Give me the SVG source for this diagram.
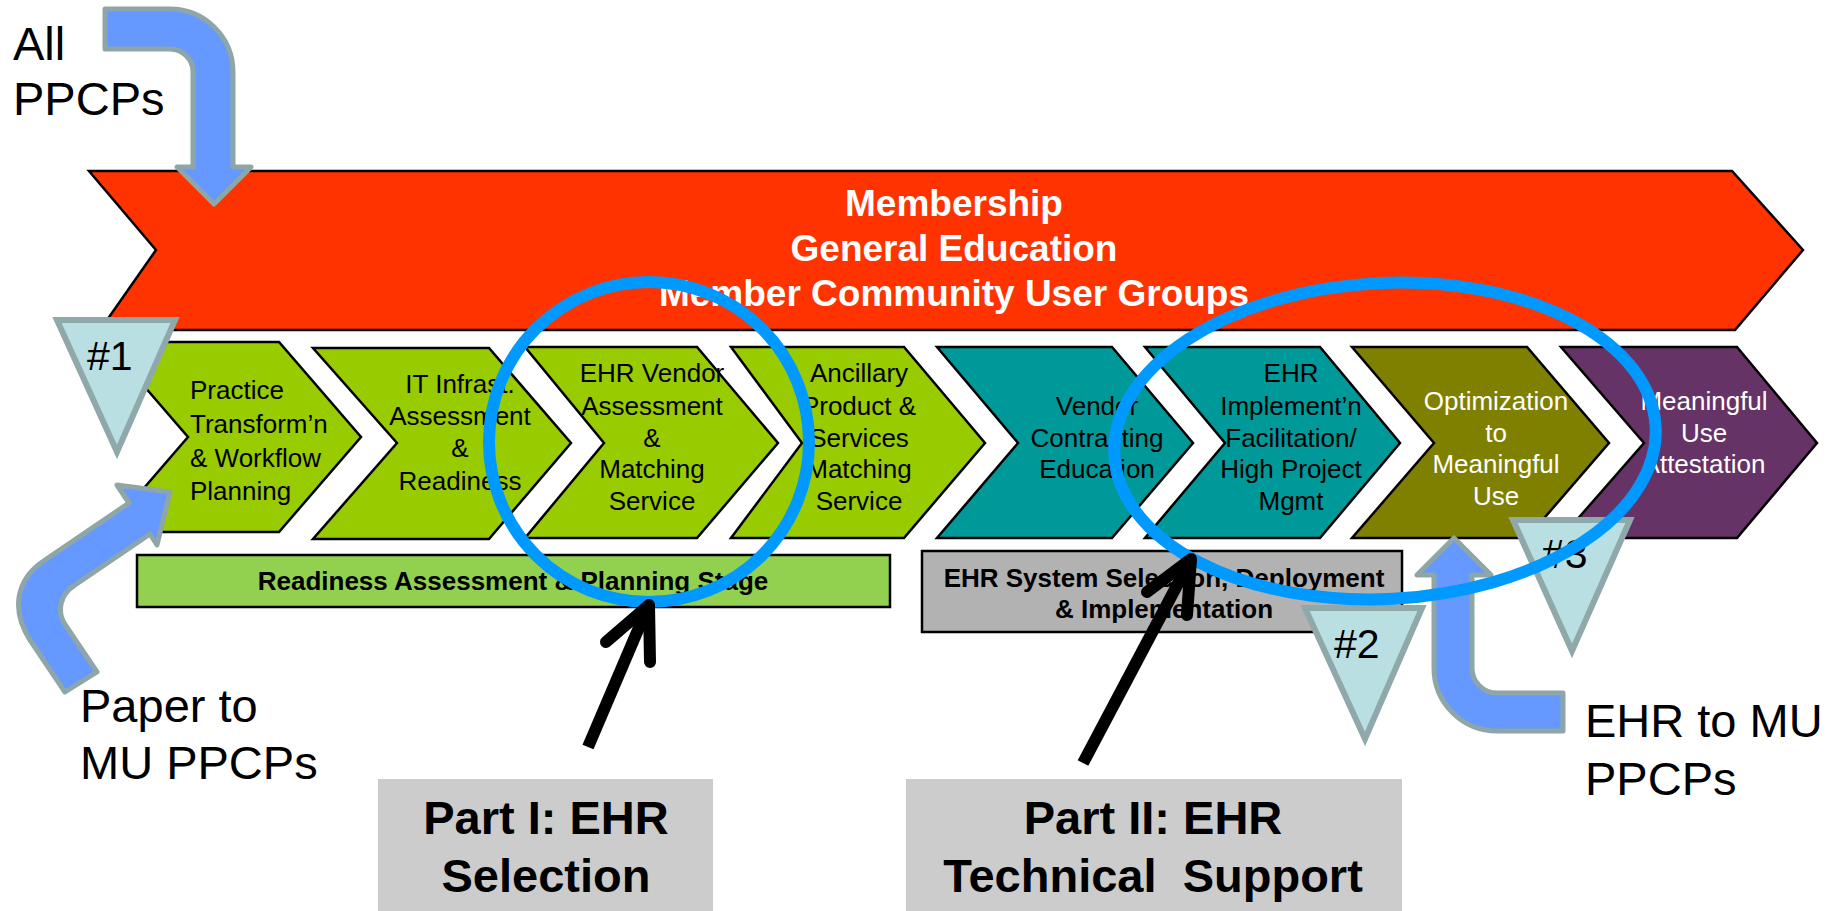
<svg xmlns="http://www.w3.org/2000/svg" width="1839" height="911" viewBox="0 0 1839 911">
<defs>
<style>
text{font-family:"Liberation Sans",Arial,sans-serif;}
.chev{stroke:#000;stroke-width:2.5;stroke-linejoin:miter;}
.g{fill:#99CC00}.t{fill:#009999}.o{fill:#808000}.p{fill:#663366}
.ct{font-size:26px;fill:#000;text-anchor:middle;}
.cw{font-size:26px;fill:#fff;text-anchor:middle;}
.tri{fill:#B9DFE3;stroke:#8FA8AA;stroke-width:6;stroke-linejoin:miter;}
.tt{font-size:41px;fill:#000;}
.barrow{fill:#6699FF;stroke:#8EA6A8;stroke-width:5;stroke-linejoin:round;}
.lab{font-size:47px;fill:#000;}
.ring{fill:none;stroke:#0099FF;stroke-width:12;}
.karrow{fill:none;stroke:#000;stroke-width:12;stroke-linecap:round;stroke-linejoin:round;}
.part{fill:#CCCCCC;}
.pt{font-size:47px;font-weight:bold;fill:#000;text-anchor:middle;}
.bt{font-size:26px;font-weight:bold;fill:#000;text-anchor:middle;}
</style>
</defs>
<rect width="1839" height="911" fill="#fff"/>

<g id="banner">
<polygon points="89,171 1732,171 1803,250 1735,330 100,330 156,250" fill="#FF3300" stroke="#000" stroke-width="2.5"/>
<text x="954" y="216" font-size="37" font-weight="bold" fill="#fff" text-anchor="middle">Membership</text>
<text x="954" y="261" font-size="37" font-weight="bold" fill="#fff" text-anchor="middle">General Education</text>
<text x="954" y="306" font-size="37" font-weight="bold" fill="#fff" text-anchor="middle">Member Community User Groups</text>
</g>

<g id="chevrons">
<g id="c1"><polygon class="chev g" points="106,342 279,342 361,437 279,532 106,532 188,437"/>
<text class="ct" style="text-anchor:start" x="190" y="399">Practice</text>
<text class="ct" style="text-anchor:start" x="190" y="433">Transform’n</text>
<text class="ct" style="text-anchor:start" x="190" y="467">&amp; Workflow</text>
<text class="ct" style="text-anchor:start" x="190" y="500">Planning</text></g>
<g id="c2"><polygon class="chev g" points="313,348 489,348 571,443 489,539 313,539 397,443"/>
<text class="ct" x="460" y="393">IT Infrast.</text>
<text class="ct" x="460" y="425">Assessment</text>
<text class="ct" x="460" y="457">&amp;</text>
<text class="ct" x="460" y="490">Readiness</text></g>
<g id="c3"><polygon class="chev g" points="525,347 697,347 778,443 697,538 525,538 604,443"/>
<text class="ct" x="652" y="382">EHR Vendor</text>
<text class="ct" x="652" y="415">Assessment</text>
<text class="ct" x="652" y="447">&amp;</text>
<text class="ct" x="652" y="478">Matching</text>
<text class="ct" x="652" y="510">Service</text></g>
<g id="c4"><polygon class="chev g" points="731,347 904,347 985,443 904,538 731,538 802,443"/>
<text class="ct" x="859" y="382">Ancillary</text>
<text class="ct" x="859" y="415">Product &amp;</text>
<text class="ct" x="859" y="447">Services</text>
<text class="ct" x="859" y="478">Matching</text>
<text class="ct" x="859" y="510">Service</text></g>
<g id="c5"><polygon class="chev t" points="937,347 1112,347 1193,443 1112,538 937,538 1018,443"/>
<text class="ct" x="1097" y="415">Vendor</text>
<text class="ct" x="1097" y="447">Contracting</text>
<text class="ct" x="1097" y="478">Education</text></g>
<g id="c6"><polygon class="chev t" points="1145,347 1320,347 1400,443 1320,538 1145,538 1225,443"/>
<text class="ct" x="1291" y="382">EHR</text>
<text class="ct" x="1291" y="415">Implement’n</text>
<text class="ct" x="1291" y="447">Facilitation/</text>
<text class="ct" x="1291" y="478">High Project</text>
<text class="ct" x="1291" y="510">Mgmt</text></g>
<g id="c7"><polygon class="chev o" points="1352,347 1527,347 1609,443 1527,538 1352,538 1434,443"/>
<text class="cw" x="1496" y="410">Optimization</text>
<text class="cw" x="1496" y="442">to</text>
<text class="cw" x="1496" y="473">Meaningful</text>
<text class="cw" x="1496" y="505">Use</text></g>
<g id="c8"><polygon class="chev p" points="1561,347 1737,347 1817,443 1737,538 1561,538 1644,443"/>
<text class="cw" x="1704" y="410">Meaningful</text>
<text class="cw" x="1704" y="442">Use</text>
<text class="cw" x="1704" y="473">Attestation</text></g>
</g>

<g id="stage1">
<rect x="137" y="555" width="753" height="52" fill="#92D050" stroke="#000" stroke-width="2.5"/>
<text class="bt" x="513" y="590">Readiness Assessment &amp; Planning Stage</text>
</g>
<g id="stage2">
<rect x="922" y="551" width="480" height="81" fill="#B2B2B2" stroke="#000" stroke-width="2.5"/>
<text class="bt" x="1164" y="587">EHR System Selection, Deployment</text>
<text class="bt" x="1164" y="618">&amp; Implementation</text>
</g>

<g id="marker1"><polygon class="tri" points="57,320 175,320 117,452"/><text class="tt" x="87" y="370">#1</text></g>
<g id="marker2"><polygon class="tri" points="1305,608 1422,608 1365,739"/><text class="tt" x="1334" y="658">#2</text></g>
<g id="marker3"><polygon class="tri" points="1513,520 1630,520 1572,651"/><text class="tt" x="1542" y="568">#3</text></g>

<g id="labels">
<text class="lab" x="13" y="60">All</text>
<text class="lab" x="13" y="115">PPCPs</text>
<text class="lab" x="80" y="722">Paper to</text>
<text class="lab" x="80" y="779">MU PPCPs</text>
<text class="lab" x="1585" y="737">EHR to MU</text>
<text class="lab" x="1585" y="795">PPCPs</text>
</g>

<g id="connectors">
<path class="barrow" d="M105,9 L170,9 A63,63 0 0 1 233,72 L233,167 L251,167 L214,204 L177,167 L193,167 L193,72 A23,23 0 0 0 170,49 L105,49 Z"/>
<path class="barrow" d="M65,692 L30,640 C12,612 14,580 45,560 L129,503 L117,485 L170,492 L157,545 L150,534 L75,585 C60,594 56,612 66,626 L97,672 Z"/>
<path class="barrow" d="M1563,693 L1497,693 A25,25 0 0 1 1472,668 L1472,575 L1491,575 L1454,538 L1417,575 L1434,575 L1434,668 A63,63 0 0 0 1497,731 L1563,731 Z"/>
<ellipse class="ring" cx="649" cy="442" rx="160" ry="160"/>
<ellipse class="ring" cx="1385" cy="441" rx="271" ry="158" transform="rotate(-3 1385 441)"/>
<line class="karrow" x1="588" y1="747" x2="649" y2="604" style="stroke-linecap:butt"/>
<polyline class="karrow" points="606,642 649,605 650,662"/>
<line class="karrow" x1="1083" y1="763" x2="1191" y2="559" style="stroke-linecap:butt"/>
<polyline class="karrow" points="1147,592 1191,559 1187,615"/>
</g>

<g id="part1"><rect class="part" x="378" y="779" width="335" height="132"/>
<text class="pt" x="546" y="834">Part I: EHR</text>
<text class="pt" x="546" y="892">Selection</text></g>
<g id="part2"><rect class="part" x="906" y="779" width="496" height="132"/>
<text class="pt" x="1153" y="834" xml:space="preserve">Part II: EHR</text>
<text class="pt" x="1153" y="892" xml:space="preserve">Technical  Support</text></g>
</svg>
